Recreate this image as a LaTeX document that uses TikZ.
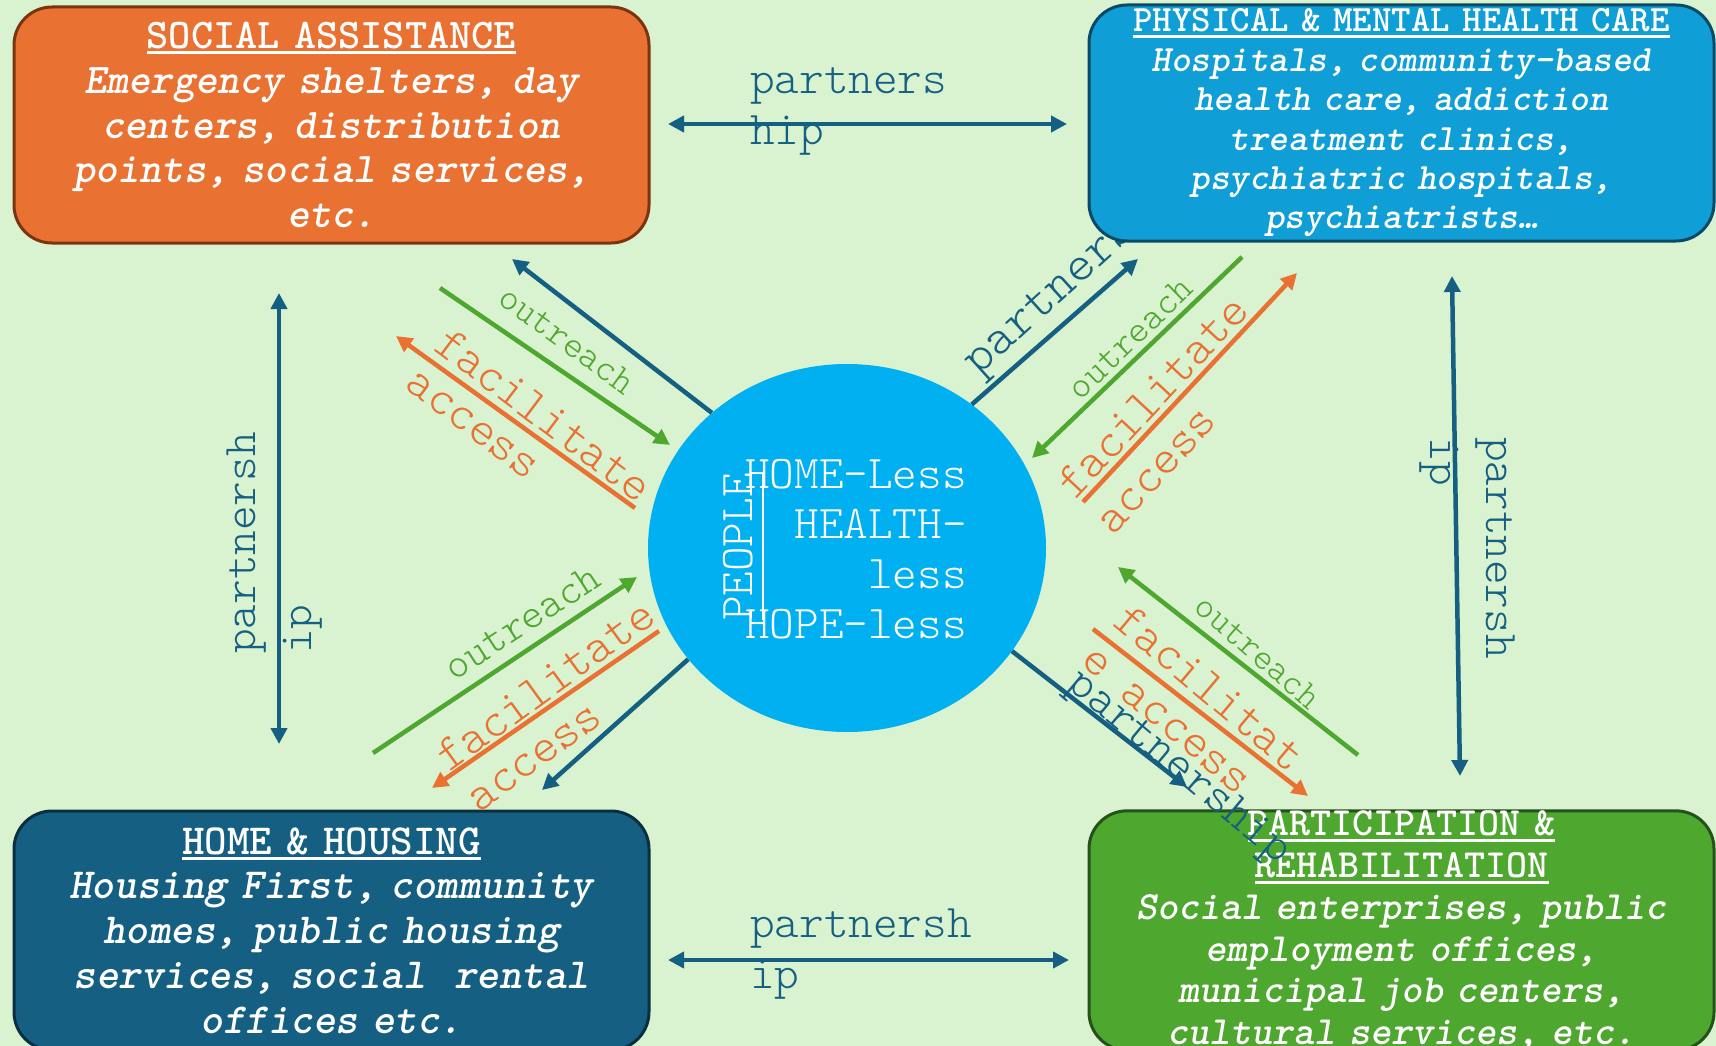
\documentclass[tikz,border=0pt]{standalone}
\usepackage{fontspec}
\usetikzlibrary{arrows.meta,shapes.geometric}
\newcommand{\fsz}[2]{\ttfamily\fontsize{#1}{#2}\selectfont}
\newcommand{\lsz}[2]{\ttfamily\fontseries{l}\fontsize{#1}{#2}\selectfont}
\newcommand{\hdr}[1]{\setbox0=\hbox{#1}\noindent\rlap{\rule[-6pt]{\wd0}{3pt}}\box0}
\definecolor{bggreen}{HTML}{D9F2D0}
\definecolor{orng}{HTML}{E97132}
\definecolor{orngdark}{HTML}{7A3510}
\definecolor{skyb}{HTML}{0F9ED5}
\definecolor{skybdark}{HTML}{0B4A66}
\definecolor{navy}{HTML}{156082}
\definecolor{navydark}{HTML}{0B2F40}
\definecolor{grn}{HTML}{4EA72E}
\definecolor{grndark}{HTML}{25511A}
\definecolor{circ}{HTML}{00B0F0}
\begin{document}
\begin{tikzpicture}[x=1pt,y=-1pt,
    box/.style={rounded corners=38pt, line width=3pt, text=white, align=center, inner sep=0pt, text width=615pt},
    tip/.style={line width=4.5pt, -{Triangle[length=16pt,width=16pt]}},
    tips/.style={line width=4.5pt, {Triangle[length=16pt,width=16pt]}-{Triangle[length=16pt,width=16pt]}},
    lbl/.style={inner sep=0pt, align=left}]
  \useasboundingbox (0,0) rectangle (1716,1046);
  \fill[bggreen] (0,0) rectangle (1716,1046);

  \node[box, fill=orng, draw=orngdark, minimum width=635pt, minimum height=236pt, font=\fsz{42.3}{44.8}\bfseries] (social) at (331.5,125)
    {\hdr{SOCIAL ASSISTANCE}\\\itshape Emergency shelters, day\\centers, distribution\\points, social services,\\etc.};
  \node[box, fill=navy, draw=navydark, minimum width=635pt, minimum height=239pt, font=\fsz{42.9}{44.8}\bfseries] (housing) at (331.5,930.5)
    {\hdr{HOME \& HOUSING}\\\itshape Housing First, community\\homes, public housing\\services, social~~rental\\offices etc.};
  \node[box, fill=grn, draw=grndark, minimum width=625pt, minimum height=239pt, font=\fsz{40}{41.8}\bfseries] (rehab) at (1401.5,930.5)
    {\hdr{PARTICIPATION \&}\\\hdr{REHABILITATION}\\\itshape Social enterprises, public\\employment offices,\\municipal job centers,\\cultural services, etc.};

  \node[ellipse, fill=circ, minimum width=398pt, minimum height=368pt, inner sep=0pt] (hub) at (847,548) {};
  \node[anchor=east, align=right, text=white, inner sep=0pt, font=\lsz{46.9}{50}] (less) at (967,549) {HOME-Less\\HEALTH-\\less\\HOPE-less};
  \node[rotate=90, text=white, inner sep=0pt, font=\lsz{46.9}{50}] (people) at (738,547) {PEOPLE};
  \draw[white, line width=1.5pt] (763,473) -- (763,620);

  \coordinate (topL) at (668,124);  \coordinate (topR) at (1067,124);
  \coordinate (botL) at (668,960);  \coordinate (botR) at (1069,960);
  \coordinate (lftT) at (279,293);  \coordinate (lftB) at (279,744);
  \coordinate (rgtT) at (1452,276); \coordinate (rgtB) at (1460,776);
  \coordinate (tlB) at (512,259);  \coordinate (tlG1) at (440,288);  \coordinate (tlG2) at (670,445);
  \coordinate (tlO1) at (635,508); \coordinate (tlO2) at (396,336);
  \coordinate (trB) at (1138,259); \coordinate (trG1) at (1242,257); \coordinate (trG2) at (1032,458);
  \coordinate (trO1) at (1083,502); \coordinate (trO2) at (1297,273);
  \coordinate (blB) at (542,790);  \coordinate (blG1) at (373,753);  \coordinate (blG2) at (637,577);
  \coordinate (blO1) at (659,631); \coordinate (blO2) at (432,788);
  \coordinate (brB) at (1187,787); \coordinate (brG1) at (1358,755); \coordinate (brG2) at (1118,567);
  \coordinate (brO1) at (1093,629); \coordinate (brO2) at (1308,796);

  \draw[tips, navy] (topL) -- (topR);
  \draw[tips, navy] (botL) -- (botR);
  \draw[tips, navy] (lftT) -- (lftB);
  \draw[tips, navy] (rgtT) -- (rgtB);
  \node[lbl, anchor=west, text=navy, font=\lsz{46.9}{51}] (topPart) at (750,111) {partners\\hip};
  \node[lbl, anchor=west, text=navy, font=\lsz{46.9}{51}] (botPart) at (750,954) {partnersh\\ip};
  \node[lbl, anchor=west, rotate=90, text=navy, font=\lsz{46.9}{56}] (lftPart) at (275,654) {partnersh\\ip};
  \node[lbl, anchor=west, rotate=-90, text=navy, font=\lsz{46.9}{56}] (rgtPart) at (1467,437) {partnersh\\ip};

  \draw[tip, navy] (hub.135) -- (tlB);
  \draw[tip, grn] (tlG1) -- (tlG2);
  \draw[tip, orng] (tlO1) -- (tlO2);
  \node[lbl, rotate=-36, text=grn, font=\lsz{37.7}{40}] (tlOut) at (567,340) {outreach};
  \node[lbl, rotate=-37, text=orng, font=\lsz{49.1}{48}] (tlFac) at (530,434) {facilitate\\access};

  \draw[tip, navy] (hub.49) -- (trB);
  \draw[tip, grn] (trG1) -- (trG2);
  \draw[tip, orng] (trO1) -- (trO2);
  \node[lbl, anchor=west, rotate=42, text=navy, font=\lsz{51}{50}] (trPart) at (972,369) {partnership};
  \node[lbl, rotate=44, text=grn, font=\lsz{37.7}{40}] (trOut) at (1130,338) {outreach};
  \node[lbl, rotate=47, text=orng, font=\lsz{49.1}{52}] (trFac) at (1171,414) {facilitate\\access};

  \draw[tip, navy] (hub.215) -- (blB);
  \draw[tip, grn] (blG1) -- (blG2);
  \draw[tip, orng] (blO1) -- (blO2);
  \node[lbl, rotate=33, text=grn, font=\lsz{42.3}{44}] (blOut) at (522,622) {outreach};
  \node[lbl, rotate=36, text=orng, font=\lsz{49.1}{50}] (blFac) at (560,705) {facilitate\\access};

  \draw[tip, navy] (hub.-32) -- (brB);
  \draw[tip, grn] (brG1) -- (brG2);
  \draw[tip, orng] (brO1) -- (brO2);
  \node[lbl, rotate=-40, text=navy, font=\lsz{48}{50}] (brPart) at (1178,769) {partnership};
  \node[lbl, rotate=-41, text=grn, font=\lsz{36.6}{40}] (brOut) at (1258,652) {outreach};
  \node[lbl, rotate=-40, text=orng, font=\lsz{49.1}{50}] (brFac) at (1194,707) {facilitat\\e access};

  \node[box, fill=skyb, draw=skybdark, minimum width=625pt, minimum height=236pt, font=\fsz{37.1}{39.4}\bfseries] (health) at (1401.5,123)
    {\hdr{PHYSICAL \& MENTAL HEALTH CARE}\\\itshape Hospitals, community-based\\health care, addiction\\treatment clinics,\\psychiatric hospitals,\\psychiatrists…};
\end{tikzpicture}
\end{document}
